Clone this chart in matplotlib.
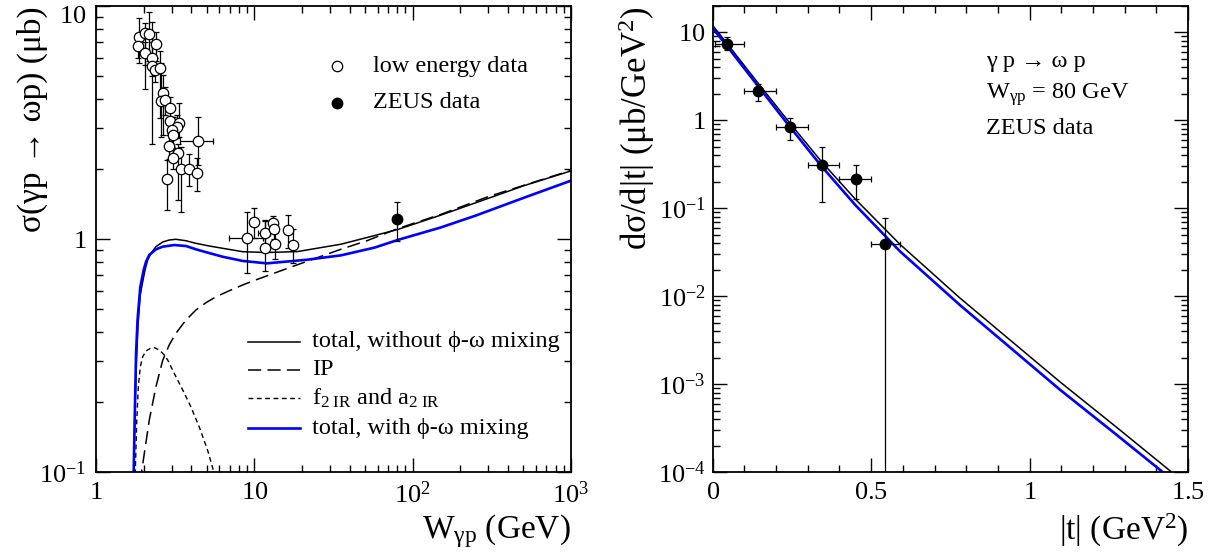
import numpy as np
import matplotlib
matplotlib.use("Agg")
import matplotlib.pyplot as plt
from matplotlib.ticker import FixedLocator, FixedFormatter, LogLocator, MultipleLocator, NullFormatter
from matplotlib.transforms import ScaledTranslation

plt.rcParams['font.family'] = ['Liberation Serif', 'DejaVu Serif']
plt.rcParams['mathtext.fontset'] = 'custom'
plt.rcParams['mathtext.rm'] = 'Liberation Serif'
plt.rcParams['mathtext.it'] = 'Liberation Serif:italic'
plt.rcParams['mathtext.bf'] = 'Liberation Serif:bold'
plt.rcParams['lines.scale_dashes'] = False

# ---------------- Left panel data ----------------
# low energy data (open circles)
low_W = [1.87, 1.83, 2.04, 2.04, 2.17, 2.38, 2.25, 2.25, 2.36, 2.54, 2.66, 2.56, 2.73, 2.93,
         2.93, 3.36, 3.23, 3.01, 3.05, 2.89, 3.31, 3.08, 4.43, 3.43, 3.88, 4.37, 2.81,
         8.95, 10.0, 11.6, 11.7, 13.1, 13.3, 13.6, 16.2, 17.6]
low_sig = [7.38, 6.76, 7.64, 6.30, 7.56, 6.85, 5.97, 5.53, 5.31, 5.40, 4.25, 3.92, 3.95, 3.64,
           3.22, 3.16, 3.03, 2.94, 2.79, 2.51, 2.33, 2.22, 2.63, 2.00, 2.00, 1.92, 1.81,
           1.013, 1.18, 1.06, 0.912, 1.168, 1.10, 0.952, 1.093, 0.942]
low_hi = [8.85, 7.6, 8.48, 7.0, 9.46, 7.76, 7.0, 8.5, 6.0, 6.43, 5.06, 5.68, 4.5, 4.08,
          3.6, 3.82, 3.4, 3.35, 3.35, 2.8, 2.55, 2.45, 3.35, 2.49, 2.32, 2.22, 2.18,
          1.31, 1.36, 1.2, 1.21, 1.26, 1.2, 1.06, 1.27, 1.10]
low_lo = [5.68, 6.0, 4.39, 5.6, 5.8, 5.83, 5.0, 2.55, 4.7, 3.30, 2.79, 2.75, 3.4, 2.84,
          2.9, 2.75, 2.7, 2.49, 2.22, 2.2, 1.47, 2.0, 2.08, 1.30, 1.69, 1.61, 1.33,
          0.713, 1.01, 0.93, 0.729, 1.08, 1.0, 0.818, 0.912, 0.79]
low_Wlo = [1.87, 1.83, 2.04, 2.04, 2.17, 2.38, 2.25, 2.25, 2.36, 2.54, 2.66, 2.56, 2.73, 2.93,
           2.93, 3.36, 3.23, 3.01, 3.05, 2.89, 3.31, 3.08, 3.39, 3.43, 3.88, 4.37, 2.81,
           6.96, 10.0, 10.6, 11.7, 13.1, 13.3, 13.6, 16.2, 17.6]
low_Whi = [1.87, 1.83, 2.04, 2.04, 2.17, 2.38, 2.25, 2.25, 2.36, 2.54, 2.66, 2.56, 2.73, 2.93,
           2.93, 3.36, 3.23, 3.01, 3.05, 2.89, 3.31, 3.08, 5.45, 3.43, 3.88, 4.37, 2.81,
           11.3, 10.0, 12.6, 11.7, 13.1, 13.3, 13.6, 16.2, 17.6]

# ZEUS data (filled circle)
zeus_W = [80.0]
zeus_sig = [1.215]
zeus_hi = [1.44]
zeus_lo = [0.983]
zeus_Wlo = [75.6]
zeus_Whi = [85.0]

# curves
tot_W = [1.72, 1.73, 1.76, 1.80, 1.84, 1.90, 1.945, 2.04, 2.12, 2.225, 2.39, 2.64, 2.90, 3.20,
         3.70, 4.28, 5.2, 6.32, 8.45, 12.0, 18.7, 35.3, 57.6, 81.0, 150.0, 250.0, 500.0, 1000.0]
tot_sig = [0.09, 0.10, 0.18, 0.30, 0.42, 0.57, 0.624, 0.736, 0.813, 0.868, 0.927, 0.971, 0.990, 0.997,
           0.983, 0.958, 0.933, 0.912, 0.882, 0.875, 0.883, 0.95, 1.035, 1.10, 1.265, 1.43, 1.69, 1.96]

mix_W = [1.72, 1.73, 1.755, 1.79, 1.83, 1.905, 2.0, 2.07, 2.17, 2.39, 2.64, 3.12, 3.70, 4.28,
         5.2, 6.32, 8.45, 12.0, 21.6, 35.3, 57.6, 81.0, 150.0, 250.0, 500.0, 1000.0]
mix_sig = [0.09, 0.10, 0.167, 0.32, 0.45, 0.624, 0.736, 0.799, 0.854, 0.903, 0.927, 0.942, 0.933, 0.903,
           0.87, 0.839, 0.805, 0.786, 0.815, 0.851, 0.919, 0.992, 1.12, 1.26, 1.50, 1.78]

ip_W = [1.92, 1.94, 2.17, 2.39, 2.64, 2.90, 3.20, 3.70, 4.28, 4.95, 5.73, 6.95, 8.45, 9.77,
        17.8, 35.3, 51.4, 81.0, 153.0, 300.0, 1000.0]
ip_sig = [0.09, 0.10, 0.167, 0.232, 0.302, 0.351, 0.394, 0.449, 0.496, 0.533, 0.565, 0.600, 0.635, 0.66,
          0.766, 0.904, 0.983, 1.11, 1.28, 1.52, 1.97]

reg_W = [1.76, 1.77, 1.81, 1.85, 1.905, 1.97, 2.07, 2.20, 2.33, 2.51, 2.70, 2.84, 3.12, 3.53,
         3.98, 4.49, 5.07, 5.46, 5.65]
reg_sig = [0.09, 0.10, 0.167, 0.232, 0.283, 0.312, 0.331, 0.339, 0.342, 0.334, 0.318, 0.302, 0.265, 0.225,
           0.190, 0.156, 0.124, 0.104, 0.092]

left_xticks = [1, 10, 100, 1000]
left_xticklabels = ['$1$', '$10$', '$10^{2}$', '$10^{3}$']
left_yticks = [0.1, 1, 10]
left_yticklabels = ['$10^{-1}$', '$1$', '$10$']

# ---------------- Right panel data ----------------
t_pts = [0.045, 0.144, 0.244, 0.344, 0.451, 0.544]
dsdt = [7.44, 2.15, 0.84, 0.308, 0.217, 0.0397]
dsdt_hi = [8.98, 2.61, 1.07, 0.497, 0.308, 0.0783]
dsdt_lo = [6.24, 1.66, 0.604, 0.118, 0.126, 1e-6]
t_lo = [0.007, 0.1, 0.2, 0.3, 0.4, 0.5]
t_hi = [0.099, 0.2, 0.3, 0.4, 0.5, 0.59]

tcurve_t = [0.0, 0.044, 0.144, 0.244, 0.344, 0.451, 0.591, 0.78, 1.096, 1.274, 1.448, 1.46]
tcurve_v = [12.0, 7.59, 2.63, 0.927, 0.337, 0.126, 0.0389, 0.00955, 0.00106, 0.000324, 0.0001, 0.000092]
tmix_t = [0.0, 0.044, 0.144, 0.244, 0.344, 0.451, 0.591, 0.78, 1.096, 1.274, 1.42, 1.435]
tmix_v = [11.2, 7.08, 2.43, 0.841, 0.299, 0.108, 0.0324, 0.00794, 0.000863, 0.000266, 0.0001, 0.000092]

right_xticks = [0, 0.5, 1, 1.5]
right_xticklabels = ['$0$', '$0.5$', '$1$', '$1.5$']
right_yticks = [1e-4, 1e-3, 1e-2, 1e-1, 1, 10]
right_yticklabels = ['$10^{-4}$', '$10^{-3}$', '$10^{-2}$', '$10^{-1}$', '$1$', '$10$']

# ---------------- Figure ----------------
W, H = 1215, 558
fig = plt.figure(figsize=(W / 100, H / 100), dpi=100)
ax1 = fig.add_axes([96 / W, (H - 472) / H, 475 / W, 466 / H])
ax2 = fig.add_axes([712.7 / W, (H - 472) / H, 475.3 / W, 466 / H])

TICKFS = 19
LABFS = 24
TXTFS = 17.5
BLUE = '#0000ff'


def style(ax):
    for s in ax.spines.values():
        s.set_linewidth(1.3)
    ax.tick_params(which='both', direction='in', top=True, right=True, width=1.0,
                   labelsize=TICKFS, pad=7)
    ax.tick_params(which='major', length=10)
    ax.tick_params(which='minor', length=5)


# ---- left panel ----
ax1.set_xscale('log')
ax1.set_yscale('log')
ax1.set_xlim(1, 1000)
ax1.set_ylim(0.1, 10)

ax1.plot(tot_W, tot_sig, color='black', lw=1.1)
ax1.plot(ip_W, ip_sig, color='black', lw=1.1, dashes=(9.5, 4.5))
ax1.plot(reg_W, reg_sig, color='black', lw=1.0, dashes=(3.5, 2.5))
ax1.plot(mix_W, mix_sig, color=BLUE, lw=1.9)

low_W_a = np.array(low_W)
low_sig_a = np.array(low_sig)
ax1.errorbar(low_W_a, low_sig_a,
             yerr=[low_sig_a - np.array(low_lo), np.array(low_hi) - low_sig_a],
             xerr=[low_W_a - np.array(low_Wlo), np.array(low_Whi) - low_W_a],
             fmt='o', ms=7.5, mfc='white', mec='black', mew=0.9, ecolor='black',
             elinewidth=0.9, capsize=2.5, capthick=0.9, zorder=5)
zW = np.array(zeus_W)
zs = np.array(zeus_sig)
ax1.errorbar(zW, zs, yerr=[zs - np.array(zeus_lo), np.array(zeus_hi) - zs],
             xerr=[zW - np.array(zeus_Wlo), np.array(zeus_Whi) - zW],
             fmt='o', ms=7.5, mfc='black', mec='black', ecolor='black',
             elinewidth=0.9, capsize=2.5, capthick=0.9, zorder=6)

ax1.xaxis.set_major_locator(FixedLocator(left_xticks))
ax1.xaxis.set_major_formatter(FixedFormatter(left_xticklabels))
ax1.xaxis.set_minor_locator(LogLocator(base=10, subs=np.arange(2, 10)))
ax1.xaxis.set_minor_formatter(NullFormatter())
ax1.yaxis.set_major_locator(FixedLocator(left_yticks))
ax1.yaxis.set_major_formatter(FixedFormatter(left_yticklabels))
ax1.yaxis.set_minor_locator(LogLocator(base=10, subs=np.arange(2, 10)))
ax1.yaxis.set_minor_formatter(NullFormatter())
style(ax1)

ax1.set_xlabel(r'W$_{\mathrm{γp}}$ (GeV)', fontsize=LABFS, loc='right')
ax1.xaxis.set_label_coords(1.0, -0.085)
ax1.set_ylabel('σ(γp → ωp) (μb)', fontsize=LABFS, loc='top')
ax1.yaxis.set_label_coords(-0.10, 1.0)

# legend 1 (data)
ax1.plot([0.507], [0.871], 'o', ms=7.5, mfc='white', mec='black', mew=0.9, transform=ax1.transAxes)
ax1.text(0.583, 0.871, 'low energy data', transform=ax1.transAxes, fontsize=TXTFS, va='center')
ax1.plot([0.507], [0.792], 'o', ms=7.5, mfc='black', mec='black', transform=ax1.transAxes)
ax1.text(0.583, 0.792, 'ZEUS data', transform=ax1.transAxes, fontsize=TXTFS, va='center')

# legend 2 (curves)
lx = [0.321, 0.429]
rows = [0.279, 0.219, 0.159, 0.094]
ax1.plot(lx, [rows[0]] * 2, color='black', lw=1.1, transform=ax1.transAxes)
ax1.plot(lx, [rows[1]] * 2, color='black', lw=1.1, dashes=(9.5, 4.5), transform=ax1.transAxes)
ax1.plot(lx, [rows[2]] * 2, color='black', lw=1.0, dashes=(3.5, 2.5), transform=ax1.transAxes)
ax1.plot(lx, [rows[3]] * 2, color=BLUE, lw=1.9, transform=ax1.transAxes)
labels2 = ['total, without ϕ-ω mixing', 'IP',
           r'f$_{\mathrm{2\ IR}}$ and a$_{\mathrm{2\ IR}}$', 'total, with ϕ-ω mixing']
for r, s in zip(rows, labels2):
    ax1.text(0.455, r, s, transform=ax1.transAxes, fontsize=TXTFS, va='center')

# ---- right panel ----
ax2.set_yscale('log')
ax2.set_xlim(0, 1.5)
ax2.set_ylim(1e-4, 20)

ax2.plot(tcurve_t, tcurve_v, color='black', lw=1.1)
ax2.plot(tmix_t, tmix_v, color=BLUE, lw=1.9)

tp = np.array(t_pts)
dv = np.array(dsdt)
ax2.errorbar(tp, dv, yerr=[dv - np.array(dsdt_lo), np.array(dsdt_hi) - dv],
             xerr=[tp - np.array(t_lo), np.array(t_hi) - tp],
             fmt='o', ms=7.5, mfc='black', mec='black', ecolor='black',
             elinewidth=0.9, capsize=2.5, capthick=0.9, zorder=6)

ax2.xaxis.set_major_locator(FixedLocator(right_xticks))
ax2.xaxis.set_major_formatter(FixedFormatter(right_xticklabels))
ax2.xaxis.set_minor_locator(MultipleLocator(0.1))
ax2.yaxis.set_major_locator(FixedLocator(right_yticks))
ax2.yaxis.set_major_formatter(FixedFormatter(right_yticklabels))
ax2.yaxis.set_minor_locator(LogLocator(base=10, subs=np.arange(2, 10)))
ax2.yaxis.set_minor_formatter(NullFormatter())
style(ax2)
ax2.tick_params(axis='y', which='major', pad=5)

ax2.set_xlabel(r'|t| (GeV$^{2}$)', fontsize=LABFS, loc='right')
ax2.xaxis.set_label_coords(1.0, -0.085)
ax2.set_ylabel(r'dσ/d|t| (μb/GeV$^{2}$)', fontsize=25, loc='top')
ax2.yaxis.set_label_coords(-0.118, 1.0)

ax2.text(0.575, 0.880, 'γ p → ω p', transform=ax2.transAxes, fontsize=TXTFS, va='center')
ax2.text(0.575, 0.809, r'W$_{\mathrm{γp}}$ = 80 GeV', transform=ax2.transAxes, fontsize=TXTFS, va='center')
ax2.text(0.575, 0.738, 'ZEUS data', transform=ax2.transAxes, fontsize=TXTFS, va='center')

# keep the top "10" label of the left panel inside the picture (as in the reference)
fig.canvas.draw()
top_lab = ax1.yaxis.get_major_ticks()[-1].label1
top_lab.set_transform(top_lab.get_transform() + ScaledTranslation(0, -6 / 72, fig.dpi_scale_trans))

fig.savefig('out.png', dpi=100)
